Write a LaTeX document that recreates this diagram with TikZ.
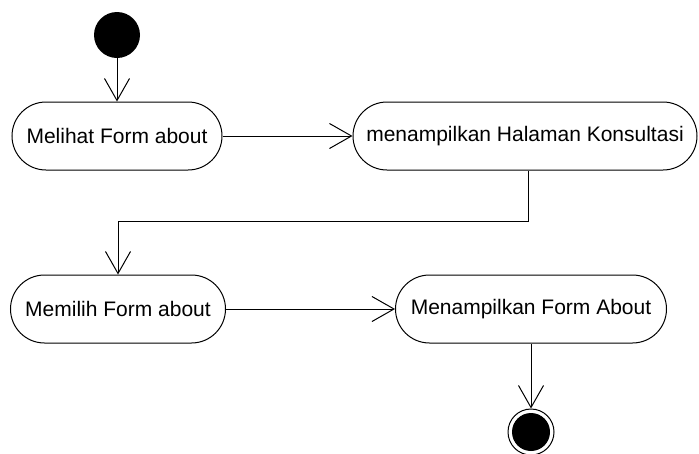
\documentclass[tikz,border=0pt]{standalone}
\usepackage{fontspec}
\setmainfont{Liberation Sans}
\usetikzlibrary{arrows.meta, positioning}

\begin{document}
\begin{tikzpicture}[
    x=1pt, y=-1pt,
    activity/.style={rectangle, rounded corners=34pt, draw, line width=1pt, minimum height=68pt, inner xsep=12pt, font=\fontsize{21}{25}\selectfont},
    start/.style={circle, fill=black, minimum size=46pt, inner sep=0pt},
    finish/.style={circle, draw, line width=1pt, minimum size=46pt, inner sep=0pt},
    flow/.style={-{Straight Barb[length=22pt, width=25pt, line width=1pt]}, line width=1pt}
  ]

  \useasboundingbox (0,0) rectangle (699,453);

  % Nodes
  \node[start] (init) at (117,35) {};
  \node[activity, minimum width=210pt] (melihat) at (117,136) {Melihat Form about};
  \node[activity, minimum width=344pt] (halaman) at (525,136) {menampilkan Halaman Konsultasi};
  \node[activity, minimum width=215pt] (memilih) at (118,309) {Memilih Form about};
  \node[activity, minimum width=271pt] (tampil) at (531,309) {Menampilkan Form About};
  \node[finish] (final) at (531,432) {};
  \fill (final) circle (19pt);

  % Flows
  \draw[flow] (init) -- (melihat);
  \draw[flow] (melihat) -- (halaman);
  \coordinate (turn) at (528,221);
  \draw[flow] (halaman.south -| turn) -- (turn) -| (memilih.north);
  \draw[flow] (memilih) -- (tampil);
  \draw[flow] (tampil) -- (final);

\end{tikzpicture}
\end{document}
